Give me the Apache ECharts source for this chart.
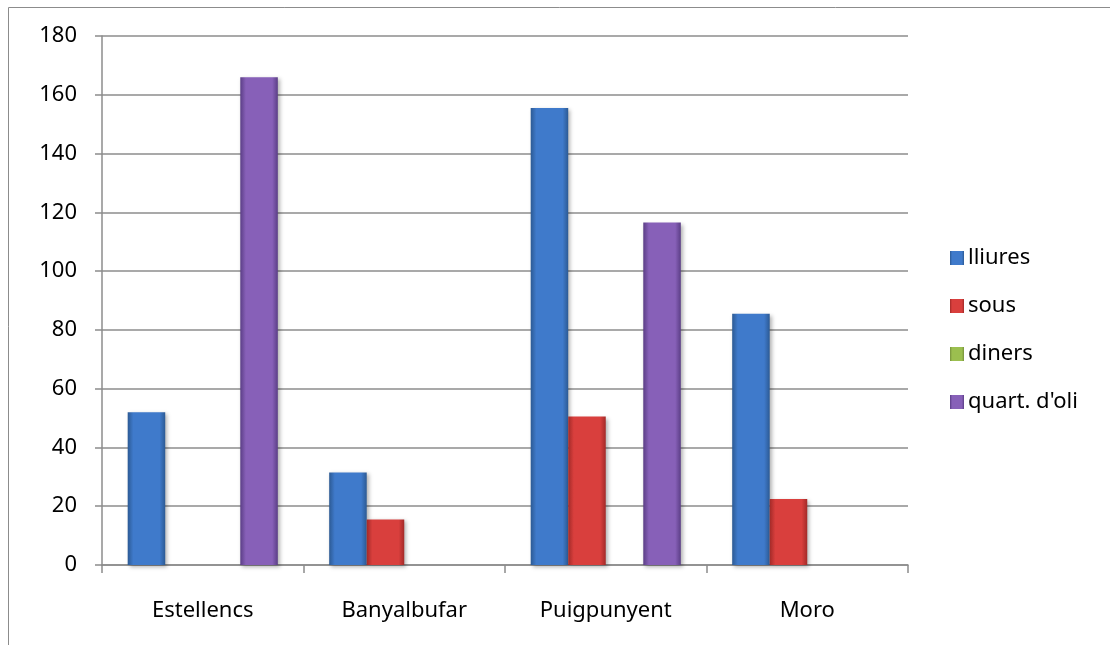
<!DOCTYPE html>
<html>
<head>
<meta charset="utf-8">
<script src="https://cdn.jsdelivr.net/npm/echarts@6/dist/echarts.min.js"></script>
<style>
  html, body { margin: 0; padding: 0; background: #fff; }
  #chart { width: 1110px; height: 645px; }
</style>
</head>
<body>
<div id="chart"></div>
<script>
// dades llegides del gràfic
var categories = ['Estellencs', 'Banyalbufar', 'Puigpunyent', 'Moro'];
var lliures = [52, 31.5, 155.5, 85.5];
var sous = [0, 15.5, 50.5, 22.5];
var diners = [0, 0, 0, 0];
var quartOli = [166, 0, 116.5, 0];
var yTicks = [0, 20, 40, 60, 80, 100, 120, 140, 160, 180];

// degradat horitzontal per donar relleu a les barres
function bevel(edge, mid) {
  return new echarts.graphic.LinearGradient(0, 0, 1, 0, [
    { offset: 0, color: edge },
    { offset: 0.15, color: mid },
    { offset: 0.85, color: mid },
    { offset: 1, color: edge }
  ]);
}

var chart = echarts.init(document.getElementById('chart'));
var font = '"Noto Sans", "Open Sans", sans-serif';

function serie(name, data, edge, mid) {
  return {
    name: name,
    type: 'bar',
    data: data,
    barGap: '0%',
    barCategoryGap: '25.5%',
    itemStyle: {
      color: bevel(edge, mid),
      shadowBlur: 4,
      shadowColor: 'rgba(0,0,0,0.3)',
      shadowOffsetX: 2,
      shadowOffsetY: 2
    }
  };
}

var option = {
  animation: false,
  graphic: [{
    type: 'rect',
    shape: { x: 8.5, y: 7.5, width: 1200, height: 700 },
    style: { fill: 'none', stroke: '#8c8c8c', lineWidth: 1 }
  }],
  grid: { left: 102, right: 202, top: 36, bottom: 80 },
  legend: {
    orient: 'vertical',
    left: 945,
    top: 242,
    itemWidth: 14,
    itemHeight: 14,
    itemGap: 26,
    icon: 'rect',
    textStyle: { fontFamily: font, fontSize: 22, color: '#000', padding: [0, 0, 0, -1] },
    data: ['lliures', 'sous', 'diners', "quart. d'oli"]
  },
  xAxis: {
    type: 'category',
    data: categories,
    axisLine: { lineStyle: { color: '#8c8c8c', width: 1.5 } },
    axisTick: { show: true, length: 8, lineStyle: { color: '#8c8c8c', width: 1.5 } },
    axisLabel: { fontFamily: font, fontSize: 22, color: '#000', margin: 35 }
  },
  yAxis: {
    type: 'value',
    min: yTicks[0],
    max: yTicks[yTicks.length - 1],
    interval: 20,
    axisLine: { show: true, lineStyle: { color: '#8c8c8c', width: 1.5 } },
    axisTick: { show: true, length: 7, lineStyle: { color: '#8c8c8c', width: 1.5 } },
    axisLabel: { fontFamily: font, fontSize: 22, color: '#000', margin: 25 },
    splitLine: { lineStyle: { color: '#8c8c8c', width: 1.5 } }
  },
  series: [
    serie('lliures', lliures, '#2c5a94', '#3f7acb'),
    serie('sous', sous, '#a32a28', '#d93f3d'),
    serie('diners', diners, '#76913c', '#9bbf4f'),
    serie("quart. d'oli", quartOli, '#5b3e86', '#8760b8')
  ]
};
chart.setOption(option);
</script>
</body>
</html>
